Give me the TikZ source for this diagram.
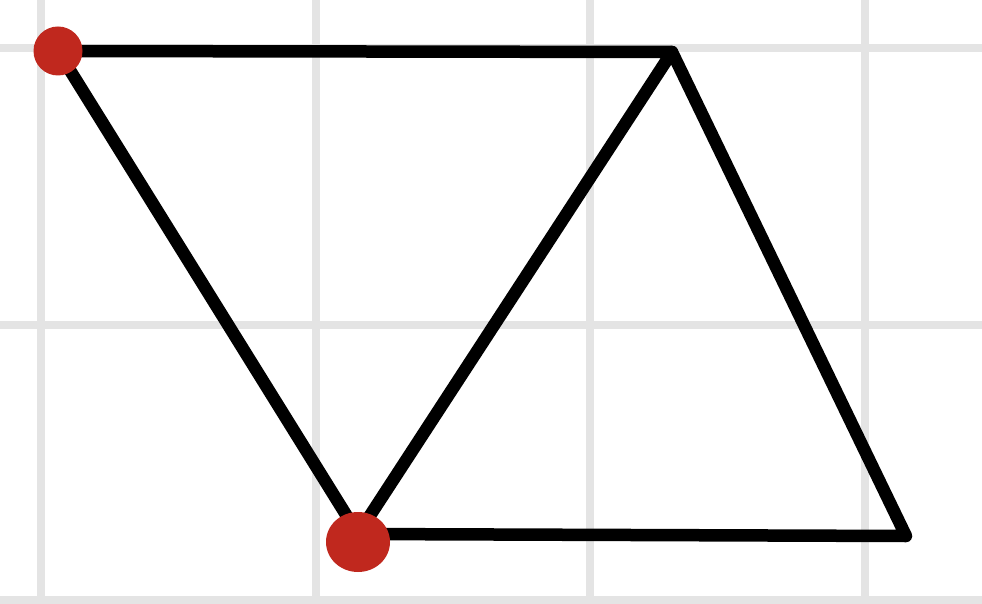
\documentclass[tikz,border=0pt]{standalone}
\begin{document}
\begin{tikzpicture}[x=1pt,y=-1pt,
  gridline/.style={draw=gridgray,line width=8pt},
  edge/.style={draw=black,line width=12.5pt,line cap=round,line join=round},
  reddot/.style={fill=dotred}]
\definecolor{gridgray}{HTML}{E4E4E4}
\definecolor{dotred}{HTML}{C0281E}
\useasboundingbox (0,0) rectangle (982,604);
\fill[white] (0,0) rectangle (982,604);
\foreach \x in {41,316,590,865} \draw[gridline] (\x,-10) -- (\x,620);
\foreach \y in {48,325,600} \draw[gridline] (-10,\y) -- (1000,\y);
\coordinate (A) at (58,51);
\coordinate (B) at (672,52);
\coordinate (C) at (358,534);
\coordinate (D) at (906,536);
\draw[edge] (A) -- (B) -- (C) -- cycle;
\draw[edge] (B) -- (D) -- (C);
\fill[reddot] (A) ++(0,0) circle[radius=24.5];
\fill[reddot] (358,542) ellipse[x radius=32,y radius=30];
\end{tikzpicture}
\end{document}
